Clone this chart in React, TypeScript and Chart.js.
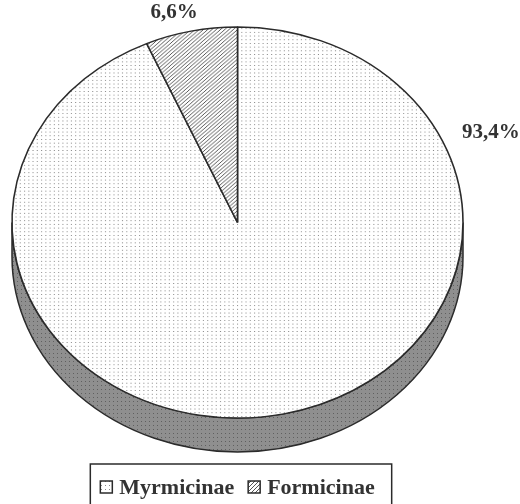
import React, { useEffect, useRef } from "react";
import { Chart, registerables } from "chart.js";

Chart.register(...registerables);

// ---- data ----
const categories = ["Myrmicinae", "Formicinae"];
const shares = [93.4, 6.6];
const valueLabels = ["93,4%", "6,6%"];

const FONT = '"Liberation Serif", "DejaVu Serif", serif';

function makeDotPattern(bg: string, dot: string, step: number) {
  const c = document.createElement("canvas");
  c.width = step;
  c.height = step;
  const g = c.getContext("2d")!;
  g.fillStyle = bg;
  g.fillRect(0, 0, step, step);
  g.fillStyle = dot;
  g.fillRect(1, 1, 1, 1);
  return g.createPattern(c, "repeat")!;
}

function makeHatch(bg: string, line: string, step: number) {
  const c = document.createElement("canvas");
  c.width = step;
  c.height = step;
  const g = c.getContext("2d")!;
  g.fillStyle = bg;
  g.fillRect(0, 0, step, step);
  g.strokeStyle = line;
  g.lineWidth = 1;
  g.beginPath();
  g.moveTo(0, step);
  g.lineTo(step, 0);
  g.moveTo(-1, 1);
  g.lineTo(1, -1);
  g.moveTo(step - 1, step + 1);
  g.lineTo(step + 1, step - 1);
  g.stroke();
  return g.createPattern(c, "repeat")!;
}

const tiltPlugin = {
  id: "tilt",
  beforeDatasetsDraw(chart: any, _args: any, opts: any) {
    const meta = chart.getDatasetMeta(0);
    const arc = meta.data[0];
    if (!arc) return;
    const { x, y, outerRadius } = arc.getProps(["x", "y", "outerRadius"], true);
    const ca = chart.chartArea;
    const rx = (ca.right - ca.left) / 2;
    const ry = rx * opts.tilt;
    const cx = x;
    const cy = ca.top + ry;
    const d = opts.depth;
    const ctx = chart.ctx as CanvasRenderingContext2D;
    ctx.save();
    ctx.beginPath();
    ctx.moveTo(cx + rx, cy);
    ctx.lineTo(cx + rx, cy + d);
    ctx.ellipse(cx, cy + d, rx, ry, 0, 0, Math.PI, false);
    ctx.lineTo(cx - rx, cy);
    ctx.ellipse(cx, cy, rx, ry, 0, Math.PI, 0, true);
    ctx.closePath();
    ctx.fillStyle = opts.sideFill;
    ctx.fill();
    ctx.lineWidth = opts.lineWidth;
    ctx.strokeStyle = opts.edge;
    ctx.stroke();
    ctx.restore();

    ctx.save();
    ctx.translate(cx, cy);
    ctx.scale(rx / outerRadius, ry / outerRadius);
    ctx.translate(-x, -y);
    chart.$tilt = { cx, cy, rx, ry };
  },
  afterDatasetsDraw(chart: any, _args: any, opts: any) {
    const ctx = chart.ctx as CanvasRenderingContext2D;
    ctx.restore();
    const t = chart.$tilt;
    if (!t) return;
    ctx.save();
    ctx.font = `bold ${opts.labelSize}px ${FONT}`;
    ctx.fillStyle = opts.textColor;
    ctx.textAlign = "center";
    ctx.textBaseline = "middle";
    const labels = chart.data.datasets[0].valueLabels as string[];
    labels.forEach((txt: string, i: number) => {
      const p = opts.labelPos[i];
      const a = (p.angle * Math.PI) / 180;
      const lx = t.cx + p.dist * t.rx * Math.cos(a);
      const ly = t.cy + p.dist * t.ry * Math.sin(a);
      ctx.fillText(txt, lx, ly);
    });
    ctx.restore();
  },
};

const boxLegendPlugin = {
  id: "boxLegend",
  afterDraw(chart: any, _args: any, opts: any) {
    const ctx = chart.ctx as CanvasRenderingContext2D;
    const labels = chart.data.labels as string[];
    const fills = chart.data.datasets[0].backgroundColor as any[];
    ctx.save();
    ctx.font = `bold ${opts.fontSize}px ${FONT}`;
    const icon = opts.icon;
    const widths = labels.map((l) => icon + opts.iconGap + ctx.measureText(l).width);
    const total = widths.reduce((s, w) => s + w, 0) + opts.itemGap * (labels.length - 1);
    const midX = chart.getDatasetMeta(0).data[0]?.x ?? chart.width / 2;
    let x = midX - total / 2;
    const top = chart.height - opts.fromBottom;
    const ty = top + opts.textOffset;
    // frame
    ctx.strokeStyle = opts.frameColor;
    ctx.lineWidth = 1.5;
    ctx.strokeRect(x - opts.padLeft, top, total + opts.padLeft + opts.padRight, 80);
    ctx.textBaseline = "middle";
    ctx.textAlign = "left";
    labels.forEach((l, i) => {
      ctx.fillStyle = fills[i];
      ctx.fillRect(x, ty - icon / 2, icon, icon);
      ctx.strokeStyle = opts.frameColor;
      ctx.lineWidth = 1.5;
      ctx.strokeRect(x, ty - icon / 2, icon, icon);
      ctx.fillStyle = opts.textColor;
      ctx.fillText(l, x + icon + opts.iconGap, ty + 1);
      x += widths[i] + opts.itemGap;
    });
    ctx.restore();
  },
};

export default function App() {
  const ref = useRef<HTMLCanvasElement | null>(null);
  useEffect(() => {
    document.body.style.margin = "0";
    const canvas = ref.current!;
    const dots = makeDotPattern("#ffffff", "#8a8a8a", 4);
    const hatch = makeHatch("#ffffff", "#555555", 4);
    const sideDots = makeDotPattern("#8f8f8f", "#606060", 4);
    const chart = new Chart(canvas, {
      type: "pie",
      data: {
        labels: categories,
        datasets: [
          {
            data: shares,
            valueLabels,
            backgroundColor: [dots, hatch],
            borderColor: "#2b2b2b",
            borderWidth: 1.5,
          } as any,
        ],
      },
      options: {
        responsive: false,
        animation: false,
        devicePixelRatio: 1,
        layout: { padding: { left: 12, right: 57, top: 27, bottom: 52 } },
        plugins: {
          legend: { display: false },
          tooltip: { enabled: false },
          tilt: {
            tilt: 0.867,
            depth: 34,
            sideFill: sideDots,
            edge: "#2b2b2b",
            lineWidth: 1.5,
            labelSize: 21,
            textColor: "#333333",
            labelPos: [
              { angle: -22.2, dist: 1.214 },
              { angle: -104.7, dist: 1.108 },
            ],
          },
          boxLegend: {
            fontSize: 22,
            icon: 12,
            iconGap: 7,
            itemGap: 14,
            padLeft: 10,
            padRight: 17,
            fromBottom: 40,
            textOffset: 23,
            frameColor: "#2b2b2b",
            textColor: "#333333",
          },
        } as any,
      },
      plugins: [tiltPlugin, boxLegendPlugin],
    });
    return () => chart.destroy();
  }, []);
  return (
    <div style={{ position: "fixed", left: 0, top: 0, width: 520, height: 504, background: "#fff" }}>
      <canvas ref={ref} width={520} height={504} />
    </div>
  );
}
